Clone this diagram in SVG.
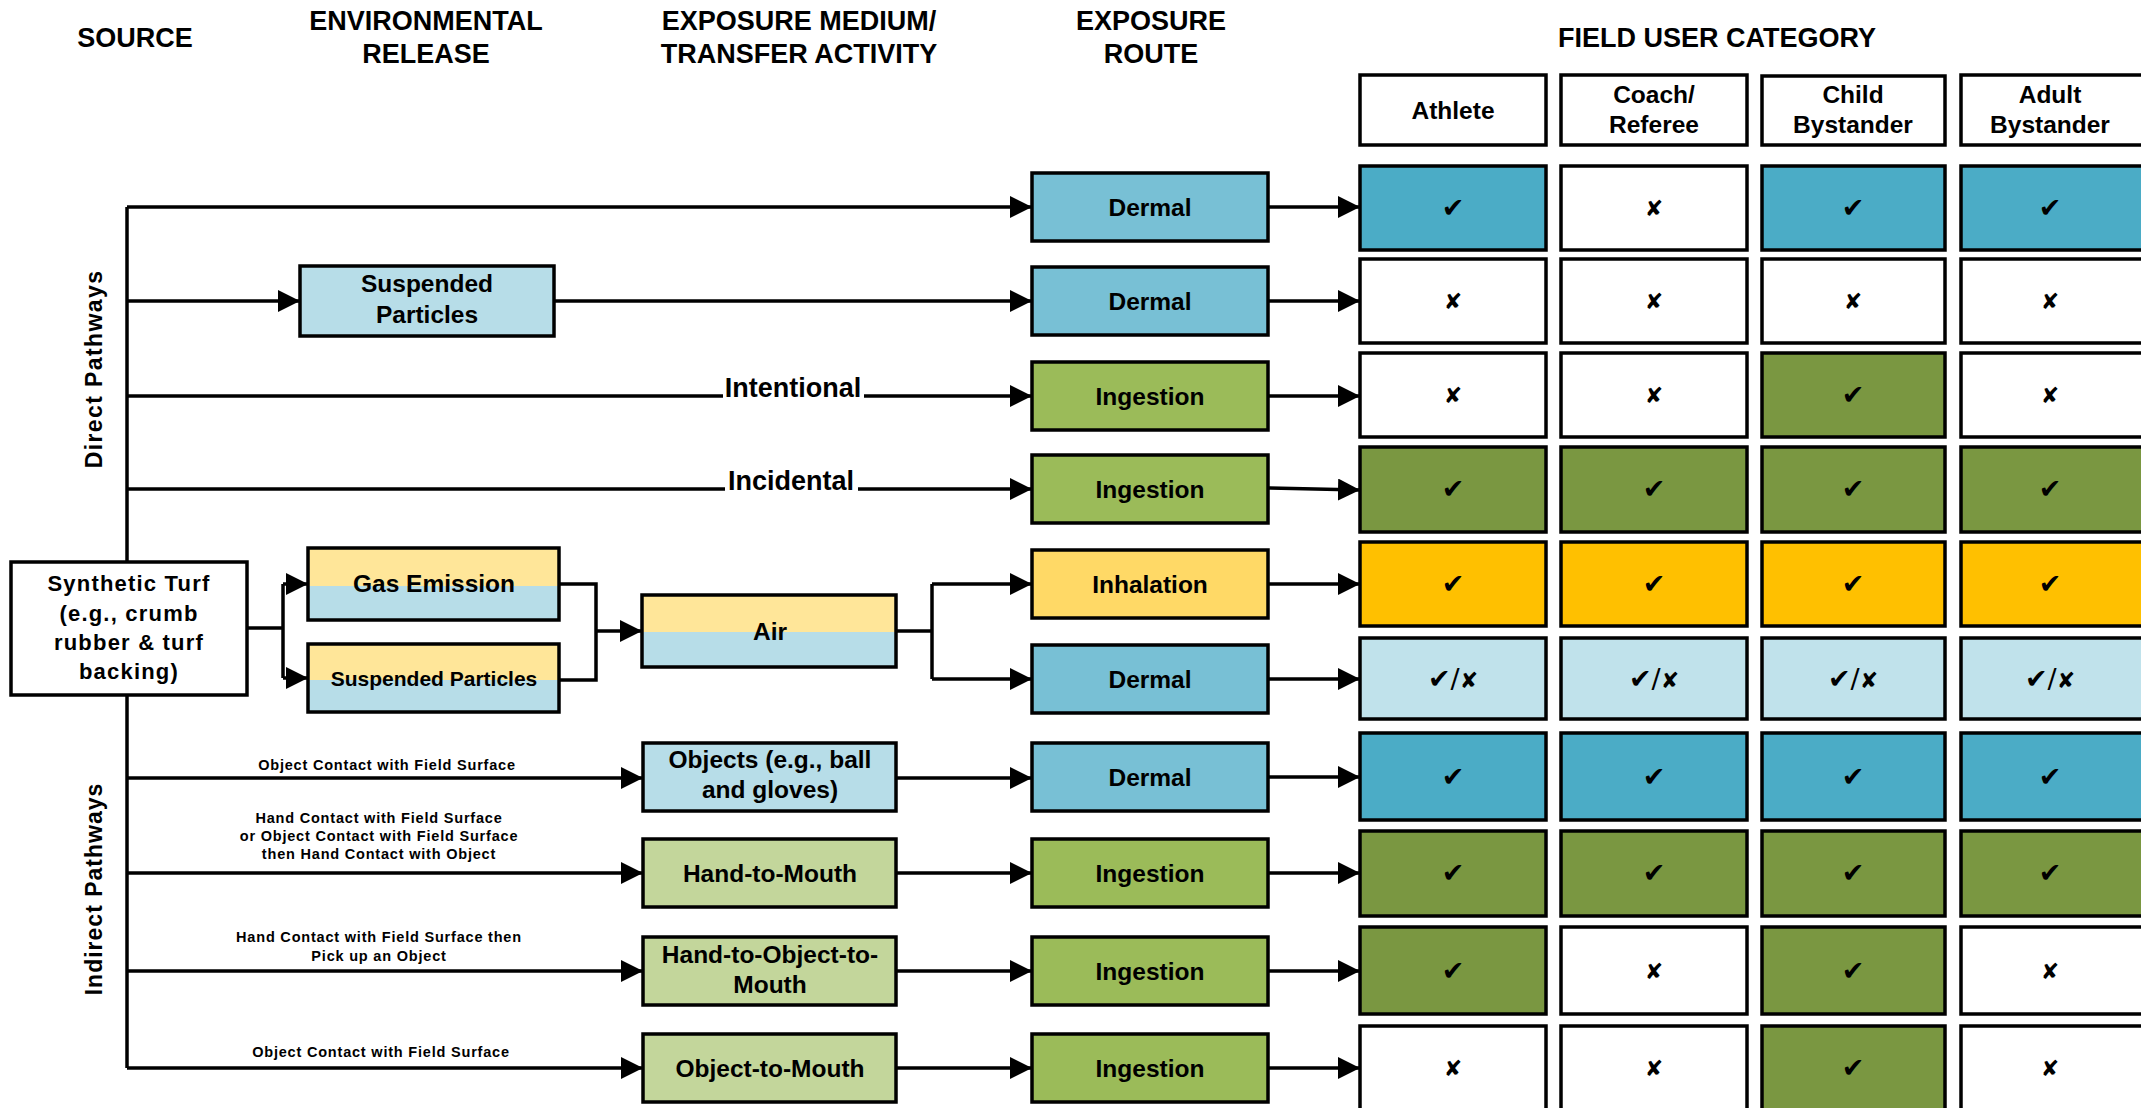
<svg xmlns="http://www.w3.org/2000/svg" width="2141" height="1108" viewBox="0 0 2141 1108">
<style>
.bx{stroke:#000;stroke-width:3.5}
.ol{fill:none;stroke:#000;stroke-width:3.5}
.cn{fill:none;stroke:#000;stroke-width:3.5}
.t{font-family:"Liberation Sans",Arial,sans-serif;font-weight:bold;font-size:24.5px;text-anchor:middle;fill:#000}
.h{font-size:27px}
.s{font-size:14.5px;letter-spacing:0.8px}
.st{font-size:22px;letter-spacing:1.2px}
.v{font-size:23px;letter-spacing:1.4px}
.m{font-family:"DejaVu Sans",sans-serif;font-size:27px;text-anchor:middle;fill:#000}
.mx{font-size:22px}
.w{fill:#fff}
.blue{fill:#4BACC6}
.lblue{fill:#C0E2EB}
.green{fill:#7A9741}
.orange{fill:#FFC000}
.rd{fill:#78C0D5}
.ri{fill:#9BBB59}
.rh{fill:#FFD966}
.sp{fill:#B7DDE8}
.yl{fill:#FFE699}
.lg{fill:#C3D69B}
</style>
<defs>
<marker id="arr" markerUnits="userSpaceOnUse" markerWidth="22" markerHeight="22" refX="22" refY="11" orient="auto"><path d="M0,0 L22,11 L0,22 z" fill="#000"/></marker>
</defs>

<g id="headers">
<text class="t h" x="135" y="47">SOURCE</text>
<text class="t h" x="426" y="30">ENVIRONMENTAL</text>
<text class="t h" x="426" y="63">RELEASE</text>
<text class="t h" x="799" y="30">EXPOSURE MEDIUM/</text>
<text class="t h" x="799" y="63">TRANSFER ACTIVITY</text>
<text class="t h" x="1151" y="30">EXPOSURE</text>
<text class="t h" x="1151" y="63">ROUTE</text>
<text class="t h" x="1717" y="47">FIELD USER CATEGORY</text>
<text class="t v" transform="translate(102,369) rotate(-90)">Direct Pathways</text>
<text class="t v" style="letter-spacing:1px" transform="translate(102,889) rotate(-90)">Indirect Pathways</text>
</g>

<g id="connectors">
<path class="cn" d="M127,207 V1068"/>
<path class="cn" d="M127,207 H1032" marker-end="url(#arr)"/>
<path class="cn" d="M127,301 H300" marker-end="url(#arr)"/>
<path class="cn" d="M554,301 H1032" marker-end="url(#arr)"/>
<path class="cn" d="M127,396 H723"/>
<path class="cn" d="M864,396 H1032" marker-end="url(#arr)"/>
<path class="cn" d="M127,489 H725"/>
<path class="cn" d="M858,489 H1032" marker-end="url(#arr)"/>
<path class="cn" d="M247,628 H283"/>
<path class="cn" d="M283,584 V678"/>
<path class="cn" d="M283,584 H308" marker-end="url(#arr)"/>
<path class="cn" d="M283,678 H308" marker-end="url(#arr)"/>
<path class="cn" d="M559,584 H596 V680 H559"/>
<path class="cn" d="M596,631 H642" marker-end="url(#arr)"/>
<path class="cn" d="M896,631 H932"/>
<path class="cn" d="M932,584 V679"/>
<path class="cn" d="M932,584 H1032" marker-end="url(#arr)"/>
<path class="cn" d="M932,679 H1032" marker-end="url(#arr)"/>
<path class="cn" d="M127,778 H643" marker-end="url(#arr)"/>
<path class="cn" d="M127,873 H643" marker-end="url(#arr)"/>
<path class="cn" d="M127,971 H643" marker-end="url(#arr)"/>
<path class="cn" d="M127,1068 H643" marker-end="url(#arr)"/>
<path class="cn" d="M896,778 H1032" marker-end="url(#arr)"/>
<path class="cn" d="M896,873 H1032" marker-end="url(#arr)"/>
<path class="cn" d="M896,971 H1032" marker-end="url(#arr)"/>
<path class="cn" d="M896,1068 H1032" marker-end="url(#arr)"/>
<path class="cn" d="M1268,207 H1360" marker-end="url(#arr)"/>
<path class="cn" d="M1268,301 H1360" marker-end="url(#arr)"/>
<path class="cn" d="M1268,396 H1360" marker-end="url(#arr)"/>
<path class="cn" d="M1268,488 L1360,490" marker-end="url(#arr)"/>
<path class="cn" d="M1268,584 H1360" marker-end="url(#arr)"/>
<path class="cn" d="M1268,679 H1360" marker-end="url(#arr)"/>
<path class="cn" d="M1268,777 H1360" marker-end="url(#arr)"/>
<path class="cn" d="M1268,873 H1360" marker-end="url(#arr)"/>
<path class="cn" d="M1268,971 H1360" marker-end="url(#arr)"/>
<path class="cn" d="M1268,1068 H1360" marker-end="url(#arr)"/>
<text class="t" style="font-size:27px" x="793" y="397">Intentional</text>
<text class="t" style="font-size:27px" x="791" y="490">Incidental</text>
<text class="t s" x="387" y="770">Object Contact with Field Surface</text>
<text class="t s" x="379" y="823">Hand Contact with Field Surface</text>
<text class="t s" x="379" y="841">or Object Contact with Field Surface</text>
<text class="t s" x="379" y="859">then Hand Contact with Object</text>
<text class="t s" x="379" y="942">Hand Contact with Field Surface then</text>
<text class="t s" x="379" y="961">Pick up an Object</text>
<text class="t s" x="381" y="1057">Object Contact with Field Surface</text>
</g>

<g id="source">
<rect class="bx w" x="11" y="562" width="236" height="133"/>
<text class="t st" x="129" y="591">Synthetic Turf</text>
<text class="t st" x="129" y="621">(e.g., crumb</text>
<text class="t st" x="129" y="650">rubber &amp; turf</text>
<text class="t st" x="129" y="679">backing)</text>
</g>

<g id="suspended-1">
<rect class="bx sp" x="300" y="266" width="254" height="70"/>
<text class="t" x="427" y="292">Suspended</text>
<text class="t" x="427" y="323">Particles</text>
</g>
<g id="gas-emission">
<rect class="yl" x="308" y="548" width="251" height="38"/>
<rect class="sp" x="308" y="586" width="251" height="34"/>
<rect class="ol" x="308" y="548" width="251" height="72"/>
<text class="t" x="434" y="592">Gas Emission</text>
</g>
<g id="suspended-2">
<rect class="yl" x="308" y="644" width="251" height="36"/>
<rect class="sp" x="308" y="680" width="251" height="32"/>
<rect class="ol" x="308" y="644" width="251" height="68"/>
<text class="t" style="font-size:21px" x="434" y="686">Suspended Particles</text>
</g>
<g id="air">
<rect class="yl" x="642" y="595" width="254" height="37"/>
<rect class="sp" x="642" y="632" width="254" height="35"/>
<rect class="ol" x="642" y="595" width="254" height="72"/>
<text class="t" x="770" y="640">Air</text>
</g>
<g id="objects">
<rect class="bx sp" x="643" y="743" width="253" height="68"/>
<text class="t" x="770" y="768">Objects (e.g., ball</text>
<text class="t" x="770" y="798">and gloves)</text>
</g>
<g id="hand-to-mouth">
<rect class="bx lg" x="643" y="839" width="253" height="68"/>
<text class="t" x="770" y="882">Hand-to-Mouth</text>
</g>
<g id="hand-to-object-to-mouth">
<rect class="bx lg" x="643" y="937" width="253" height="68"/>
<text class="t" x="770" y="963">Hand-to-Object-to-</text>
<text class="t" x="770" y="993">Mouth</text>
</g>
<g id="object-to-mouth">
<rect class="bx lg" x="643" y="1034" width="253" height="68"/>
<text class="t" x="770" y="1077">Object-to-Mouth</text>
</g>

<g id="route-1"><rect class="bx rd" x="1032" y="173" width="236" height="68"/><text class="t" x="1150" y="216">Dermal</text></g>
<g id="route-2"><rect class="bx rd" x="1032" y="267" width="236" height="68"/><text class="t" x="1150" y="310">Dermal</text></g>
<g id="route-3"><rect class="bx ri" x="1032" y="362" width="236" height="68"/><text class="t" x="1150" y="405">Ingestion</text></g>
<g id="route-4"><rect class="bx ri" x="1032" y="455" width="236" height="68"/><text class="t" x="1150" y="498">Ingestion</text></g>
<g id="route-5"><rect class="bx rh" x="1032" y="550" width="236" height="68"/><text class="t" x="1150" y="593">Inhalation</text></g>
<g id="route-6"><rect class="bx rd" x="1032" y="645" width="236" height="68"/><text class="t" x="1150" y="688">Dermal</text></g>
<g id="route-7"><rect class="bx rd" x="1032" y="743" width="236" height="68"/><text class="t" x="1150" y="786">Dermal</text></g>
<g id="route-8"><rect class="bx ri" x="1032" y="839" width="236" height="68"/><text class="t" x="1150" y="882">Ingestion</text></g>
<g id="route-9"><rect class="bx ri" x="1032" y="937" width="236" height="68"/><text class="t" x="1150" y="980">Ingestion</text></g>
<g id="route-10"><rect class="bx ri" x="1032" y="1034" width="236" height="68"/><text class="t" x="1150" y="1077">Ingestion</text></g>

<g id="user-athlete"><rect class="bx w" x="1360" y="75" width="186" height="70"/><text class="t" x="1453" y="119">Athlete</text></g>
<g id="user-coach"><rect class="bx w" x="1561" y="75" width="186" height="70"/><text class="t" x="1654" y="103">Coach/</text><text class="t" x="1654" y="133">Referee</text></g>
<g id="user-child"><rect class="bx w" x="1762" y="76" width="183" height="69"/><text class="t" x="1853" y="103">Child</text><text class="t" x="1853" y="133">Bystander</text></g>
<g id="user-adult"><rect class="bx w" x="1961" y="75" width="186" height="70"/><text class="t" x="2050" y="103">Adult</text><text class="t" x="2050" y="133">Bystander</text></g>

<g id="cells-row-1">
<rect class="bx blue" x="1360" y="166" width="186" height="84"/><text class="m" x="1453" y="217">✔</text>
<rect class="bx w" x="1561" y="166" width="186" height="84"/><text class="m mx" x="1654" y="216">✘</text>
<rect class="bx blue" x="1762" y="166" width="183" height="84"/><text class="m" x="1853" y="217">✔</text>
<rect class="bx blue" x="1961" y="166" width="186" height="84"/><text class="m" x="2050" y="217">✔</text>
</g>
<g id="cells-row-2">
<rect class="bx w" x="1360" y="259" width="186" height="84"/><text class="m mx" x="1453" y="309">✘</text>
<rect class="bx w" x="1561" y="259" width="186" height="84"/><text class="m mx" x="1654" y="309">✘</text>
<rect class="bx w" x="1762" y="259" width="183" height="84"/><text class="m mx" x="1853" y="309">✘</text>
<rect class="bx w" x="1961" y="259" width="186" height="84"/><text class="m mx" x="2050" y="309">✘</text>
</g>
<g id="cells-row-3">
<rect class="bx w" x="1360" y="353" width="186" height="84"/><text class="m mx" x="1453" y="403">✘</text>
<rect class="bx w" x="1561" y="353" width="186" height="84"/><text class="m mx" x="1654" y="403">✘</text>
<rect class="bx green" x="1762" y="353" width="183" height="84"/><text class="m" x="1853" y="404">✔</text>
<rect class="bx w" x="1961" y="353" width="186" height="84"/><text class="m mx" x="2050" y="403">✘</text>
</g>
<g id="cells-row-4">
<rect class="bx green" x="1360" y="447" width="186" height="85"/><text class="m" x="1453" y="498">✔</text>
<rect class="bx green" x="1561" y="447" width="186" height="85"/><text class="m" x="1654" y="498">✔</text>
<rect class="bx green" x="1762" y="447" width="183" height="85"/><text class="m" x="1853" y="498">✔</text>
<rect class="bx green" x="1961" y="447" width="186" height="85"/><text class="m" x="2050" y="498">✔</text>
</g>
<g id="cells-row-5">
<rect class="bx orange" x="1360" y="542" width="186" height="84"/><text class="m" x="1453" y="593">✔</text>
<rect class="bx orange" x="1561" y="542" width="186" height="84"/><text class="m" x="1654" y="593">✔</text>
<rect class="bx orange" x="1762" y="542" width="183" height="84"/><text class="m" x="1853" y="593">✔</text>
<rect class="bx orange" x="1961" y="542" width="186" height="84"/><text class="m" x="2050" y="593">✔</text>
</g>
<g id="cells-row-6">
<rect class="bx lblue" x="1360" y="638" width="186" height="81"/><text class="m" x="1453" y="688">✔/<tspan class="mx">✘</tspan></text>
<rect class="bx lblue" x="1561" y="638" width="186" height="81"/><text class="m" x="1654" y="688">✔/<tspan class="mx">✘</tspan></text>
<rect class="bx lblue" x="1762" y="638" width="183" height="81"/><text class="m" x="1853" y="688">✔/<tspan class="mx">✘</tspan></text>
<rect class="bx lblue" x="1961" y="638" width="186" height="81"/><text class="m" x="2050" y="688">✔/<tspan class="mx">✘</tspan></text>
</g>
<g id="cells-row-7">
<rect class="bx blue" x="1360" y="733" width="186" height="87"/><text class="m" x="1453" y="786">✔</text>
<rect class="bx blue" x="1561" y="733" width="186" height="87"/><text class="m" x="1654" y="786">✔</text>
<rect class="bx blue" x="1762" y="733" width="183" height="87"/><text class="m" x="1853" y="786">✔</text>
<rect class="bx blue" x="1961" y="733" width="186" height="87"/><text class="m" x="2050" y="786">✔</text>
</g>
<g id="cells-row-8">
<rect class="bx green" x="1360" y="831" width="186" height="85"/><text class="m" x="1453" y="882">✔</text>
<rect class="bx green" x="1561" y="831" width="186" height="85"/><text class="m" x="1654" y="882">✔</text>
<rect class="bx green" x="1762" y="831" width="183" height="85"/><text class="m" x="1853" y="882">✔</text>
<rect class="bx green" x="1961" y="831" width="186" height="85"/><text class="m" x="2050" y="882">✔</text>
</g>
<g id="cells-row-9">
<rect class="bx green" x="1360" y="927" width="186" height="87"/><text class="m" x="1453" y="980">✔</text>
<rect class="bx w" x="1561" y="927" width="186" height="87"/><text class="m mx" x="1654" y="979">✘</text>
<rect class="bx green" x="1762" y="927" width="183" height="87"/><text class="m" x="1853" y="980">✔</text>
<rect class="bx w" x="1961" y="927" width="186" height="87"/><text class="m mx" x="2050" y="979">✘</text>
</g>
<g id="cells-row-10">
<rect class="bx w" x="1360" y="1026" width="186" height="84"/><text class="m mx" x="1453" y="1076">✘</text>
<rect class="bx w" x="1561" y="1026" width="186" height="84"/><text class="m mx" x="1654" y="1076">✘</text>
<rect class="bx green" x="1762" y="1026" width="183" height="84"/><text class="m" x="1853" y="1077">✔</text>
<rect class="bx w" x="1961" y="1026" width="186" height="84"/><text class="m mx" x="2050" y="1076">✘</text>
</g>
</svg>
